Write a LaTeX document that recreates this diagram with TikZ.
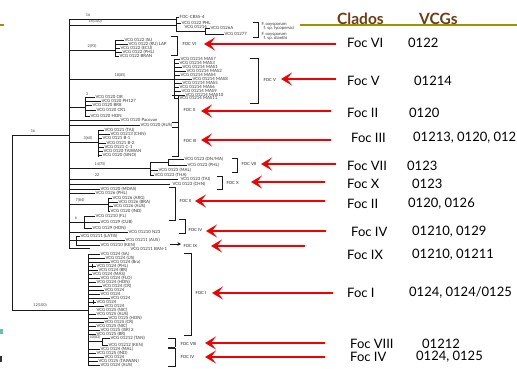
\documentclass[tikz,border=0pt]{standalone}
\usepackage{fontspec}
\setmainfont{Lato}
\usetikzlibrary{arrows.meta}
\definecolor{cladebrown}{RGB}{110,60,15}
\definecolor{oliveline}{RGB}{155,150,0}
\definecolor{arrowred}{RGB}{245,0,0}
\tikzset{
  tree/.style={line width=1pt, draw=black!90},
  leaf/.style={font=\fontsize{4.3}{4.5}\selectfont, text=black!80, inner sep=0.4pt, anchor=west},
  blab/.style={font=\fontsize{3.8}{4}\selectfont, text=black!75, inner sep=0.3pt},
  clade/.style={font=\fontsize{4.2}{4.5}\selectfont, text=black!85, inner sep=0.3pt, anchor=west},
  redarrow/.style={draw=arrowred, line width=2.6pt, -{Stealth[length=11pt,width=13pt,inset=5pt]}},
  rlabel/.style={font=\fontsize{13}{14}\selectfont, anchor=west, inner sep=0pt, text=black},
  head/.style={font=\bfseries\fontsize{15.5}{16}\selectfont, text=cladebrown, inner sep=0pt, anchor=west},
}
\begin{document}
\begin{tikzpicture}[x=1pt,y=-1pt]
\path[use as bounding box, fill=white] (0,0) rectangle (517,368);

% slide decorations
\draw[oliveline, line width=2.2pt] (300,25) -- (517,25);
\draw[oliveline, line width=2pt] (0,25) -- (4,25);
\fill[teal!55] (0,329) rectangle (2.5,334);
\fill[black!80] (0,356) rectangle (2,362);

% header
\node[head] (hclados) at (337,19) {Clados};
\node[head] (hvcg) at (419,19) {VCGs};

% ---------------- tree ----------------
% root
\draw[tree] (69,135) -- (12,135) -- (12,310) -- (88,310);
\node[blab] (b16a) at (33,131) {16};
\node[blab] (b12) at (40,305.5) {12(100)};
\draw[tree] (69,19) -- (69,248);

% outgroup
\draw[tree] (69,19) -- (176,19);
\node[blab] (b16b) at (88,15.5) {16};
\draw[tree] (69,25) -- (176,25);
\node[blab] (b18) at (95,21.5) {18(100)};
\draw[tree] (176,17) -- (176,31);
\draw[tree] (176,17) -- (179,17);
\node[leaf] (o1) at (179,17) {FOC-CBS5-4};
\draw[tree] (176,23) -- (181,23);
\node[leaf] (o2) at (181,23) {VCG 0122 PHL};
\node[leaf] (o3) at (184,27) {VCG 01214};
\draw[tree] (176,31) -- (205,31);
\draw[tree] (205,28) -- (205,34);
\draw[tree] (205,28) -- (210,28);
\node[leaf] (o4) at (210,28) {VCG 0126A};
\draw[tree] (205,34) -- (224,34);
\node[leaf] (o5) at (224,34) {VCG 01277};
\draw[tree] (253,22) -- (258,22) -- (258,37) -- (253,37);
\node[leaf] (o6) at (261,24) {F. oxysporum};
\node[leaf] (o7) at (263,28) {f. sp. lycopersici};
\node[leaf] (o8) at (261,34) {F. oxysporum};
\node[leaf] (o9) at (263,38) {f. sp. dianthi};

% Foc VI
\draw[tree] (69,50) -- (115,50);
\node[blab] (b293) at (92,46.5) {2(93)};
\draw[tree] (115,40) -- (115,56);
\foreach \y/\l/\t in {40/124/VCG 0122 ISU, 44/128/VCG 0122 (RU) LAP, 48/120/VCG 0122 (ECU), 52/122/VCG 0122 (PHL), 56/119/VCG 0122 BRAN}{
  \draw[tree] (115,\y) -- (\l,\y);
  \node[leaf] at (\l,\y) {\t};
}
\draw[tree] (171,36) -- (177,36) -- (177,55) -- (171,55);
\node[clade] (c6) at (182,44) {FOC VI};

% Foc V
\draw[tree] (69,79) -- (174,79);
\node[blab] (b1885) at (120,75.5) {18(85)};
\draw[tree] (174,59) -- (174,98);
\foreach \y/\l/\t in {59/180/VCG 01214 MAS7, 63/179/VCG 01214 MAS3, 67/182/VCG 01214 MAS1, 71/186/VCG 01214 MAS2, 75/180/VCG 01214 MAS4, 79/192/VCG 01214 MAS8, 83/182/VCG 01214 MAS5, 87/179/VCG 01214 MAS6, 91/181/VCG 01214 MAS9, 95/185/VCG 01214 MAS10, 98/179/VCG 01214 MAS11}{
  \draw[tree] (174,\y) -- (\l,\y);
  \node[leaf] at (\l,\y) {\t};
}
\draw[tree] (250,58) -- (258,58) -- (258,103) -- (250,103);
\node[clade] (c5) at (263,80) {FOC V};

% Foc II (first)
\draw[tree] (69,107) -- (85,107);
\node[blab] (b3) at (87,94) {3};
\draw[tree] (85,97) -- (85,116);
\foreach \y/\l/\t in {97/95/VCG 0120 OR, 101/101/VCG 0120 PH127, 105/92/VCG 0120 BR8, 110/96/VCG 0120 CR1, 116/90/VCG 0120 HON}{
  \draw[tree] (85,\y) -- (\l,\y);
  \node[leaf] at (\l,\y) {\t};
}
\draw[tree] (69,120) -- (120,120);
\node[leaf] (p1) at (120,120) {VCG 0120 Pacovan};
\draw[tree] (69,125) -- (140,125);
\node[leaf] (p2) at (140,125) {VCG 0120 (AUS)};
\draw[tree] (172,95) -- (178,95) -- (178,127) -- (172,127);
\node[clade] (c2a) at (183,110) {FOC II};

% Foc III
\draw[tree] (69,142) -- (98,142);
\node[blab] (b360) at (88,138.5) {3(60)};
\draw[tree] (98,130) -- (98,157);
\foreach \y/\l/\t in {130/104/VCG 0121 (TAI), 134/110/VCG 01213 (CHN), 138/102/VCG 0121 B-1, 143/106/VCG 0121 B-2, 147/104/VCG 0121 C-1, 151/103/VCG 0120 TAIWAN, 155/102/VCG 0120 (SINO)}{
  \draw[tree] (98,\y) -- (\l,\y);
  \node[leaf] at (\l,\y) {\t};
}
\draw[tree] (172,122) -- (178,122) -- (178,156) -- (172,156);
\node[clade] (c3) at (183,141) {FOC III};

% Foc VII
\draw[tree] (69,168) -- (150,168);
\node[blab] (b1475) at (100,164.5) {14(75)};
\draw[tree] (150,162) -- (150,175);
\draw[tree] (150,162) -- (168,162);
\draw[tree] (168,159) -- (168,165);
\draw[tree] (168,159) -- (184,159);
\node[leaf] (v1) at (184,159) {VCG 0123 (DN/MA)};
\draw[tree] (168,165) -- (187,165);
\node[leaf] (v2) at (187,165) {VCG 0123 (PHL)};
\draw[tree] (150,170) -- (158,170);
\node[leaf] (v3) at (158,170) {VCG 0123 (MAL)};
\draw[tree] (150,175) -- (154,175);
\node[leaf] (v4) at (154,175) {VCG 0123 (THA)};
\draw[tree] (232,158) -- (237,158) -- (237,172) -- (232,172);
\node[clade] (c7) at (241,164) {FOC VII};

% Foc X
\node[blab] (b22) at (97,175.5) {22};
\draw[tree] (69,179) -- (178,179);
\node[leaf] (x1) at (180,179) {VCG 0123 (TAI)};
\draw[tree] (69,184) -- (170,184);
\node[leaf] (x2) at (172,184) {VCG 0123 (CHN)};
\draw[tree] (217,176) -- (222,176) -- (222,189) -- (217,189);
\node[clade] (c10) at (226,183) {FOC X};

% Foc II (second)
\draw[tree] (69,189) -- (100,189);
\node[leaf] (q1) at (100,189) {VCG 0120 (MDAS)};
\draw[tree] (69,193) -- (95,193);
\node[leaf] (q2) at (95,193) {VCG 0126 (PHL)};
\draw[tree] (69,204) -- (108,204);
\node[blab] (b784) at (80,200.5) {7(84)};
\draw[tree] (108,198) -- (108,211);
\foreach \y/\l/\t in {198/112/VCG 0126 (ARG), 202/118/VCG 0126 (BRA), 206/113/VCG 0126 (AUS), 211/110/VCG 0120 (IND)}{
  \draw[tree] (108,\y) -- (\l,\y);
  \node[leaf] at (\l,\y) {\t};
}
\draw[tree] (169,187) -- (175,187) -- (175,220) -- (169,220);
\node[clade] (c2b) at (179,201) {FOC II};

% Foc IV (first)
\draw[tree] (69,222) -- (84,222);
\node[blab] (b6) at (76,218.5) {6};
\draw[tree] (84,216) -- (84,228);
\foreach \y/\l/\t in {216/95/VCG 01210 (FL), 222/100/VCG 0129 (CUB), 228/92/VCG 0129 (HON)}{
  \draw[tree] (84,\y) -- (\l,\y);
  \node[leaf] at (\l,\y) {\t};
}
\draw[tree] (69,232) -- (128,232);
\node[leaf] (r1) at (128,232) {VCG 01210 N23};
\draw[tree] (179,219) -- (185,219) -- (185,233) -- (179,233);
\node[clade] (c4a) at (188,230) {FOC IV};

% Foc IX
\draw[tree] (69,240) -- (76,240);
\draw[tree] (76,236) -- (76,245);
\draw[tree] (76,236) -- (80,236);
\node[leaf] (s1) at (80,236) {VCG 01211 (LATIS)};
\draw[tree] (76,240.5) -- (125,240.5);
\node[leaf] (s2) at (125,240.5) {VCG 01211 (AUS)};
\draw[tree] (76,245) -- (100,245);
\node[leaf] (s3) at (100,245) {VCG 01210 (KEN)};
\draw[tree] (69,248) -- (90,248);
\node[leaf] (s4) at (130,249) {VCG 01211 BAN-1};
\draw[tree, -{Stealth[length=3.5pt,width=3.5pt]}] (170,244) -- (181,244);
\node[clade] (c9) at (183,245.5) {FOC IX};

% lower clade: Foc I, VIII, IV
\draw[tree] (88,254) -- (88,366);
\foreach \y/\l/\t in {254/100/VCG 0124 (SA), 258/105/VCG 0124 (US), 262/110/VCG 0124 (Bra), 266/96/VCG 0124 (PHL), 270/98/VCG 0124 (BR), 274/92/VCG 0124 (MAS), 278/100/VCG 0124 (FLO), 282/96/VCG 0124 (HON), 286/102/VCG 0124 (CR), 290/104/VCG 0124/5 (AUS), 294/100/VCG 0124/5 (IND), 298/110/VCG 0124/5 (MAL) WPT, 302/96/VCG 0124/5 (TAN), 306/104/VCG 0124/5 (USA), 314/96/VCG 0125 (AUS), 318/108/VCG 0125 (HON), 322/104/VCG 0125 (CR), 326/96/VCG 0125 (NIC), 330/100/VCG 0125 (ISR) 2/3/75, 334/96/VCG 0125 (BR)}{
  \draw[tree] (88,\y) -- (\l,\y);
  \node[leaf] at (\l,\y) {\t};
}
\node[leaf] (n310) at (96,310) {VCG 0125 (NIC)};
\draw[tree] (92,264) -- (92,268);
\draw[tree] (93,300) -- (93,304);
% Foc VIII
\draw[tree] (88,341) -- (102,341);
\node[blab] (b4083) at (95,337.5) {40(83)};
\draw[tree] (102,338) -- (102,345);
\draw[tree] (102,338) -- (110,338);
\node[leaf] (u1) at (110,338) {VCG 01212 (TAN)};
\draw[tree] (102,345) -- (108,345);
\node[leaf] (u2) at (108,345) {VCG 01212 (KEN)};
% Foc IV (second)
\foreach \y/\l/\t in {349/100/VCG 0124 (MAL), 353/96/VCG 0125 (IND), 357/104/VCG 0124/5 (PHL), 361/98/VCG 0125 (TAIWAN), 365/100/VCG 0124 (AUS)}{
  \draw[tree] (88,\y) -- (\l,\y);
  \node[leaf] at (\l,\y) {\t};
}
\draw[tree] (184,253) -- (191,253) -- (191,335) -- (184,335);
\node[clade] (c1) at (195,293) {FOC I};
\draw[tree] (168,338) -- (175,338) -- (175,347);
\draw[tree] (175,348) -- (175,366) -- (168,366);
\draw[line width=2pt, black!85] (168,347.5) -- (175,347.5);
\node[clade] (c8) at (180,344) {FOC VIII};
\node[clade] (c4b) at (180,357) {FOC IV};

% ---------------- right labels ----------------
\node[rlabel] (l1) at (347,43) {Foc VI};    \node[rlabel] (v1r) at (408,43) {0122};
\node[rlabel] (l2) at (347,81) {Foc V};     \node[rlabel] (v2r) at (414,81) {01214};
\node[rlabel] (l3) at (347,113) {Foc II};   \node[rlabel] (v3r) at (409,113) {0120};
\node[rlabel] (l4) at (351,138) {Foc III};  \node[rlabel] (v4r) at (413,138) {01213, 0120, 0121};
\node[rlabel] (l5) at (347,166) {Foc VII};  \node[rlabel] (v5r) at (407,166) {0123};
\node[rlabel] (l6) at (347,184) {Foc X};    \node[rlabel] (v6r) at (412,184) {0123};
\node[rlabel] (l7) at (347,204) {Foc II};   \node[rlabel] (v7r) at (408,204) {0120, 0126};
\node[rlabel] (l8) at (351,232) {Foc IV};   \node[rlabel] (v8r) at (412,232) {01210, 0129};
\node[rlabel] (l9) at (347,255) {Foc IX};   \node[rlabel] (v9r) at (412,255) {01210, 01211};
\node[rlabel] (l10) at (347,293) {Foc I};   \node[rlabel] (v10r) at (409,293) {0124, 0124/0125};
\node[rlabel] (l11) at (350,344) {Foc VIII}; \node[rlabel] (v11r) at (422,344) {01212};
\node[rlabel] (l12) at (350,357) {Foc IV};  \node[rlabel] (v12r) at (416,357) {0124, 0125};

% ---------------- red arrows ----------------
\coordinate (t1) at (336,44);   \coordinate (h1) at (204,44);
\coordinate (t2) at (336,79);   \coordinate (h2) at (281,79);
\coordinate (t3) at (331,111);  \coordinate (h3) at (201,111);
\coordinate (t4) at (331,140);  \coordinate (h4) at (201,140);
\coordinate (t5) at (336,164);  \coordinate (h5) at (261,164);
\coordinate (t6) at (325,182);  \coordinate (h6) at (251,182);
\coordinate (t7) at (325,201);  \coordinate (h7) at (195,201);
\coordinate (t8) at (326,231);  \coordinate (h8) at (206,231);
\coordinate (t9) at (305,246);  \coordinate (h9) at (211,246);
\coordinate (t10) at (333,293); \coordinate (h10) at (212,293);
\coordinate (t11) at (325,343); \coordinate (h11) at (205,343);
\coordinate (t12) at (325,357); \coordinate (h12) at (205,357);
\foreach \i in {1,...,12}{\draw[redarrow] (t\i) -- (h\i);}
\end{tikzpicture}
\end{document}
